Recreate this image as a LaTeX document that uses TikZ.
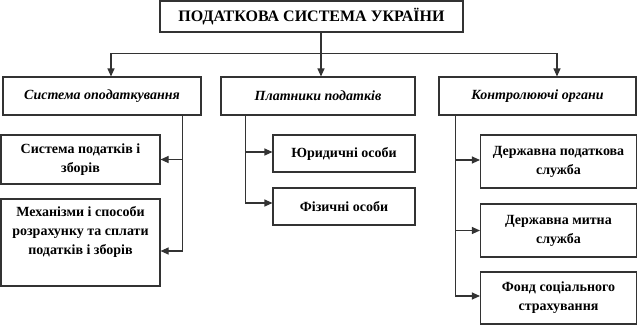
\documentclass[tikz,border=0pt]{standalone}
\usepackage{fontspec}
\setmainfont{Liberation Serif}
\usetikzlibrary{arrows.meta,positioning}
\tikzset{
  box/.style={draw=black!80, line width=1.1pt, align=center, inner sep=2pt,
              font=\bfseries\fontsize{14}{19}\selectfont},
  head/.style={box, font=\bfseries\fontsize{16}{19}\selectfont},
  grp/.style={box, font=\bfseries\itshape\fontsize{14}{19}\selectfont},
  sig/.style={-{Triangle[length=8pt,width=7pt]}, line width=1.1pt, draw=black!80},
  wire/.style={line width=1.1pt, draw=black!80},
}

\begin{document}
\begin{tikzpicture}[x=1pt,y=-1pt]
    \useasboundingbox (0,0) rectangle (638,325);
    % top and second level
    \node[head,minimum width=303,minimum height=31] (ps) at (311.5,16.5) {ПОДАТКОВА СИСТЕМА УКРАЇНИ};
    \node[grp,minimum width=198,minimum height=38] (so) at (102,96) {Система оподаткування};
    \node[grp,minimum width=194,minimum height=38] (pl) at (318,96) {Платники податків};
    \node[grp,minimum width=197,minimum height=38] (ko) at (537.5,96) {Контролюючі органи};
    % third level
    \node[box,minimum width=159,minimum height=49] (spz) at (80.5,159.5) {Система податків і\\зборів};
    \node[box,minimum width=159,minimum height=87] (mex) at (80.5,242.5) {Механізми і способи\\розрахунку та сплати\\податків і зборів\\\strut};
    \node[box,minimum width=142,minimum height=37] (yur) at (344,153.5) {Юридичні особи};
    \node[box,minimum width=142,minimum height=37] (fiz) at (344,206.5) {Фізичні особи};
    \node[box,minimum width=156,minimum height=53] (dps) at (558.5,161.5) {Державна податкова\\служба};
    \node[box,minimum width=156,minimum height=53] (dms) at (558.5,230.5) {Державна митна\\служба};
    \node[box,minimum width=156,minimum height=52] (fss) at (558.5,298) {Фонд соціального\\страхування};
    % connectors
    \draw[wire] ([xshift=9.5pt]ps.south) -- ++(0,21) coordinate (hub);
    \draw[sig] (hub) -| ([xshift=9pt]so.north);
    \draw[sig] (hub) -| ([xshift=3pt]pl.north);
    \draw[sig] (hub) -| ([xshift=19.5pt]ko.north);
    \draw[sig] ([xshift=-19pt]so.south east) |- (spz.east);
    \draw[sig] ([xshift=-19pt]so.south east) |- ([yshift=-8.5pt]mex.east);
    \draw[sig] ([xshift=25pt]pl.south west) |- ([yshift=1.5pt]yur.west);
    \draw[sig] ([xshift=25pt]pl.south west) |- ([yshift=3.5pt]fiz.west);
    \draw[sig] ([xshift=17pt]ko.south west) |- ([yshift=1.5pt]dps.west);
    \draw[sig] ([xshift=17pt]ko.south west) |- (dms.west);
    \draw[sig] ([xshift=17pt]ko.south west) |- ([yshift=2pt]fss.west);
\end{tikzpicture}
\end{document}
